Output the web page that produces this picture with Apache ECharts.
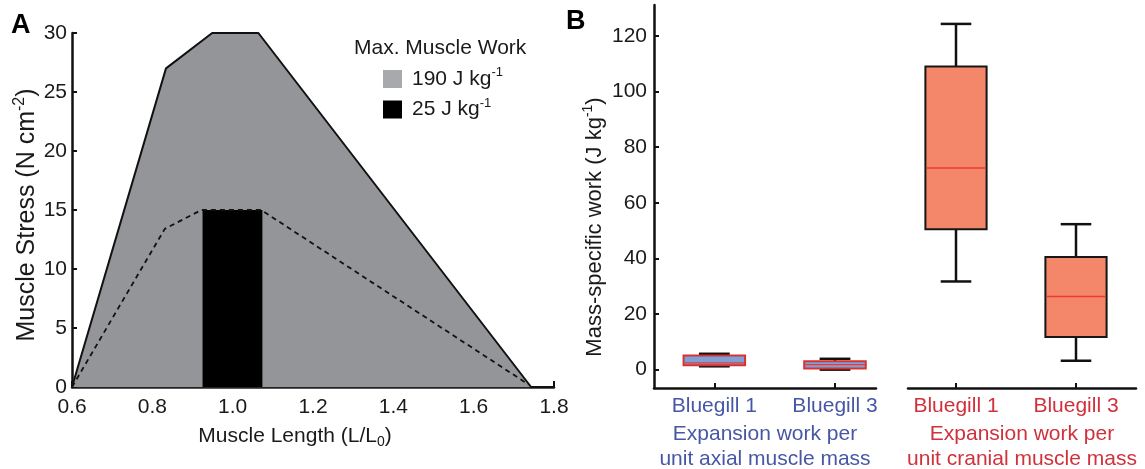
<!DOCTYPE html>
<html>
<head>
<meta charset="utf-8">
<script src="https://cdn.jsdelivr.net/npm/echarts@6/dist/echarts.min.js"></script>
<style>
  html, body { margin: 0; padding: 0; background: #fff; }
  #chart { width: 1145px; height: 469px; }
</style>
</head>
<body>
<div id="chart"></div>
<script>
// panel A: work loop outlines (x = L/L0, y = N cm-2)
var maxLoop = [[0.6, 0], [0.834, 27], [0.949, 30], [1.064, 30], [1.743, 0], [1.8, 0]];
var lowLoop = [[0.6, 0], [0.831, 13.4], [0.922, 15], [1.071, 15], [1.737, 0.2]];
var workBlock = [[0.925, 0], [0.925, 15], [1.074, 15], [1.074, 0]];
var lengthTicks = [0.6, 0.8, 1.0, 1.2, 1.4, 1.6, 1.8];
var stressTicks = [0, 5, 10, 15, 20, 25, 30];

// panel B: box plots (J kg-1)
var boxPos = [1, 2, 3, 4];
var boxNames = ['Bluegill 1', 'Bluegill 3', 'Bluegill 1', 'Bluegill 3'];
var boxMin = [1.2, 0.0, 31.7, 3.2];
var boxQ1 = [1.6, 0.4, 50.5, 11.7];
var boxMed = [2.4, 1.8, 72.5, 26.3];
var boxQ3 = [5.1, 3.0, 109.0, 40.5];
var boxMax = [5.7, 3.9, 124.3, 52.3];
var workTicks = [0, 20, 40, 60, 80, 100, 120];

var FONT = 'Liberation Sans, Arial, sans-serif';
var BLUE_TXT = '#4757a6';
var RED_TXT = '#d0313b';

function rows(idx) {
    return idx.map(function (i) {
        return [boxPos[i], boxMin[i], boxQ1[i], boxMed[i], boxQ3[i], boxMax[i]];
    });
}

function boxRenderer(fill, border) {
    return function (params, api) {
        var x = api.value(0);
        var pMin = api.coord([x, api.value(1)]);
        var pQ1 = api.coord([x, api.value(2)]);
        var pMed = api.coord([x, api.value(3)]);
        var pQ3 = api.coord([x, api.value(4)]);
        var pMax = api.coord([x, api.value(5)]);
        var w = api.size([0.51, 0])[0];
        var cx = pMin[0];
        var ws = {stroke: '#111', lineWidth: 2.5};
        return {
            type: 'group',
            children: [
                {type: 'line', shape: {x1: cx, y1: pMax[1], x2: cx, y2: pMin[1]}, style: ws},
                {type: 'line', shape: {x1: cx - w / 4, y1: pMax[1], x2: cx + w / 4, y2: pMax[1]}, style: ws},
                {type: 'line', shape: {x1: cx - w / 4, y1: pMin[1], x2: cx + w / 4, y2: pMin[1]}, style: ws},
                {type: 'rect', shape: {x: cx - w / 2, y: pQ3[1], width: w, height: pQ1[1] - pQ3[1]},
                    style: {fill: fill, stroke: border, lineWidth: 2}},
                {type: 'line', shape: {x1: cx - w / 2 + 1, y1: pMed[1], x2: cx + w / 2 - 1, y2: pMed[1]},
                    style: {stroke: '#ec3a2e', lineWidth: 1.3}}
            ]
        };
    };
}

function rich(size) {
    return {
        n: {fontFamily: FONT, fontSize: size, color: '#1a1a1a', lineHeight: size + 5},
        sup: {fontFamily: FONT, fontSize: Math.round(size * 0.62), color: '#1a1a1a', lineHeight: 13, verticalAlign: 'top'},
        sub: {fontFamily: FONT, fontSize: Math.round(size * 0.67), color: '#1a1a1a', lineHeight: 14, verticalAlign: 'bottom'}
    };
}

function bAxisX(grid, lo, hi, color, title) {
    return {
        type: 'value', gridIndex: grid, min: lo, max: hi,
        axisLine: {show: true, onZero: false, lineStyle: {color: '#111', width: 2.5}},
        axisTick: {show: true, inside: true, length: 5, customValues: boxPos, lineStyle: {color: '#111', width: 2}},
        axisLabel: {
            customValues: boxPos, margin: 8, fontFamily: FONT, fontSize: 21, color: color,
            formatter: function (v) { return boxNames[boxPos.indexOf(v)] || ''; }
        },
        splitLine: {show: false},
        name: title, nameLocation: 'middle', nameGap: 32,
        nameTextStyle: {fontFamily: FONT, fontSize: 21, color: color, lineHeight: 25, verticalAlign: 'top'}
    };
}

var chart = echarts.init(document.getElementById('chart'));

var option = {
    animation: false,
    title: [
        {text: 'A', left: 11, top: 12, padding: 0, textStyle: {fontFamily: FONT, fontSize: 27, fontWeight: 'bold', color: '#000'}},
        {text: 'B', left: 566, top: 8, padding: 0, textStyle: {fontFamily: FONT, fontSize: 27, fontWeight: 'bold', color: '#000'}},
        {text: 'Max. Muscle Work', left: 354, top: 38, padding: 0,
            textStyle: {fontFamily: FONT, fontSize: 21, fontWeight: 'normal', color: '#1a1a1a'}}
    ],
    legend: {
        orient: 'vertical', left: 383, top: 66, padding: 0,
        itemWidth: 19, itemHeight: 18, itemGap: 7, icon: 'rect',
        data: ['190', '25'],
        itemStyle: {borderWidth: 0},
        formatter: function (name) { return '{n|' + name + ' J kg}{sup|-1}'; },
        textStyle: {padding: [0, 0, 0, 5], rich: rich(21)}
    },
    grid: [
        {left: 72, top: 33, width: 482, height: 354, outerBoundsMode: 'none'},
        {left: 654, top: 5, width: 222, height: 383, outerBoundsMode: 'none'},
        {left: 908, top: 5, width: 228, height: 383, outerBoundsMode: 'none'}
    ],
    xAxis: [
        {
            type: 'value', gridIndex: 0, min: 0.6, max: 1.8,
            axisLine: {lineStyle: {color: '#222', width: 2.5}},
            axisTick: {show: true, inside: true, length: 6, customValues: lengthTicks, lineStyle: {color: '#111', width: 2}},
            axisLabel: {customValues: lengthTicks, margin: 10, fontFamily: FONT, fontSize: 21, color: '#1a1a1a',
                formatter: function (v) { return v.toFixed(1); }},
            splitLine: {show: false},
            name: '{n|Muscle Length (L/L}{sub|0}{n|)}', nameLocation: 'middle', nameGap: 36,
            nameTextStyle: {rich: rich(21), padding: [0, 36, 0, 0]}
        },
        bAxisX(1, 0.5, 2.34, BLUE_TXT, 'Expansion work per\nunit axial muscle mass'),
        bAxisX(2, 2.6, 4.5, RED_TXT, 'Expansion work per\nunit cranial muscle mass')
    ],
    yAxis: [
        {
            type: 'value', gridIndex: 0, min: 0, max: 30, interval: 5,
            axisLine: {show: true, lineStyle: {color: '#111', width: 2.5}},
            axisTick: {show: true, inside: true, length: 5, lineStyle: {color: '#111', width: 2}},
            axisLabel: {margin: 5, fontFamily: FONT, fontSize: 21, color: '#1a1a1a'},
            splitLine: {show: false},
            name: '{n|Muscle Stress (N cm}{sup|-2}{n|)}', nameLocation: 'middle', nameGap: 30,
            nameTextStyle: {rich: rich(25), padding: [0, 10, 0, 0]}
        },
        {
            type: 'value', gridIndex: 1, min: -6.6, max: 131.1,
            axisLine: {show: true, onZero: false, lineStyle: {color: '#111', width: 2.5}},
            axisTick: {show: true, inside: true, length: 5, customValues: workTicks, lineStyle: {color: '#111', width: 2}},
            axisLabel: {customValues: workTicks, margin: 7, fontFamily: FONT, fontSize: 21, color: '#1a1a1a'},
            splitLine: {show: false},
            name: '{n|Mass-specific work (J kg}{sup|-1}{n|)}', nameLocation: 'middle', nameGap: 46,
            nameTextStyle: {rich: rich(22), padding: [0, 61, 0, 0]}
        },
        {
            type: 'value', gridIndex: 2, min: -6.6, max: 131.1,
            axisLine: {show: false}, axisTick: {show: false}, axisLabel: {show: false}, splitLine: {show: false}
        }
    ],
    series: [
        {
            name: '190', type: 'line', xAxisIndex: 0, yAxisIndex: 0, data: maxLoop,
            showSymbol: false, symbol: 'none', z: 2,
            itemStyle: {color: '#a7a9ac'},
            lineStyle: {color: '#111', width: 2},
            areaStyle: {color: '#939598', opacity: 1}
        },
        {
            name: '25', type: 'line', xAxisIndex: 0, yAxisIndex: 0, data: workBlock,
            showSymbol: false, symbol: 'none', z: 3,
            itemStyle: {color: '#000'},
            lineStyle: {width: 0},
            areaStyle: {color: '#000', opacity: 1}
        },
        {
            name: 'low', type: 'line', xAxisIndex: 0, yAxisIndex: 0, data: lowLoop,
            showSymbol: false, symbol: 'none', z: 4,
            lineStyle: {color: '#111', width: 1.8, type: [5, 4]}
        },
        {
            type: 'custom', xAxisIndex: 1, yAxisIndex: 1, data: rows([0, 1]),
            encode: {x: 0, y: [1, 2, 3, 4, 5]},
            renderItem: boxRenderer('#7e9fd8', '#d8322e')
        },
        {
            type: 'custom', xAxisIndex: 2, yAxisIndex: 2, data: rows([2, 3]),
            encode: {x: 0, y: [1, 2, 3, 4, 5]},
            renderItem: boxRenderer('#f4866a', '#161616')
        }
    ]
};

chart.setOption(option);
</script>
</body>
</html>
